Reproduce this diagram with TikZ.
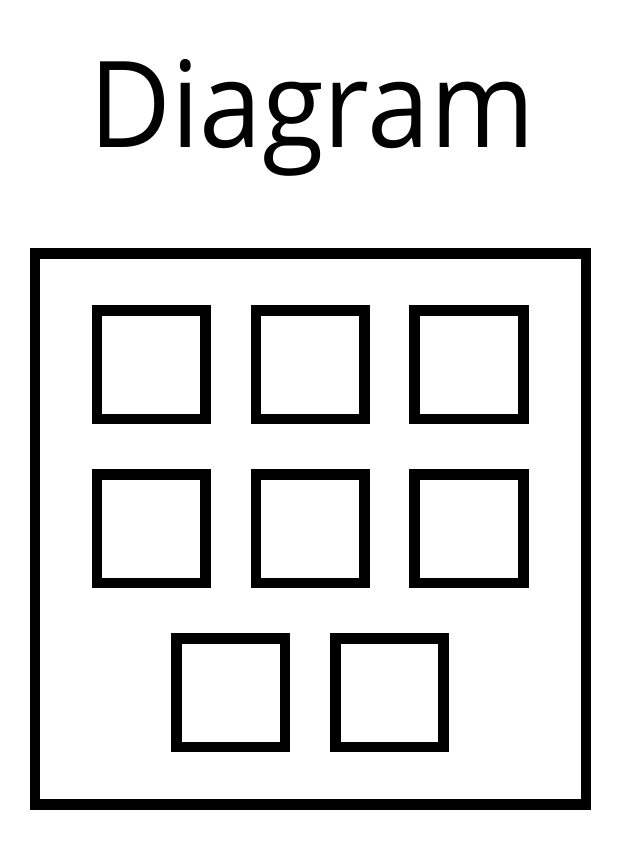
\documentclass[tikz,border=0pt]{standalone}
\usepackage{fontspec}
\setmainfont{Open Sans}
\begin{document}
\begin{tikzpicture}[x=1pt,y=-1pt,
  frame/.style={draw=black,line width=10.7pt,inner sep=0pt,minimum width=551pt,minimum height=550.6pt},
  cell/.style={draw=black,line width=10.7pt,inner sep=0pt,minimum size=108.6pt},
  titletext/.style={inner sep=0pt,font=\fontsize{120}{130}\selectfont}]
\useasboundingbox (0,0) rectangle (622,851);
\node[titletext,anchor=base] (title) at (312,147) {\scalebox{0.937}[1]{Diagram}};
\node[frame] (outer) at (310.5,529) {};
\node[cell] (s1) at (151.4,364.7) {};
\node[cell] (s2) at (310.2,364.7) {};
\node[cell] (s3) at (469.1,364.7) {};
\node[cell] (s4) at (151.4,528.7) {};
\node[cell] (s5) at (310.2,528.7) {};
\node[cell] (s6) at (469.1,528.7) {};
\node[cell] (s7) at (230.8,692.8) {};
\node[cell] (s8) at (389.5,692.8) {};
\end{tikzpicture}
\end{document}
